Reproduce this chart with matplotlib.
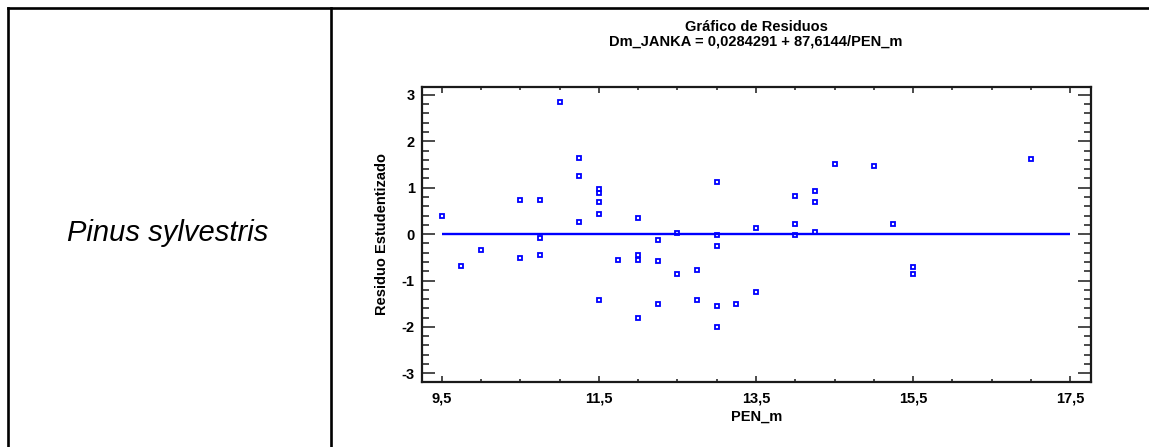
import matplotlib
matplotlib.use("Agg")
import matplotlib.pyplot as plt
from matplotlib.lines import Line2D
from matplotlib.ticker import FixedLocator, MultipleLocator, FixedFormatter

plt.rcParams["font.family"] = ["Liberation Sans", "DejaVu Sans"]
plt.rcParams["axes.unicode_minus"] = False

# Residual data: PEN_m vs studentized residual
pen_m = [9.5, 9.75, 10.0, 10.5, 10.5, 10.75, 10.75, 10.75, 11.0,
         11.25, 11.25, 11.25, 11.5, 11.5, 11.5, 11.5, 11.5, 11.75,
         12.0, 12.0, 12.0, 12.0, 12.25, 12.25, 12.25, 12.5, 12.5,
         12.75, 12.75, 13.0, 13.0, 13.0, 13.0, 13.0, 13.25, 13.5, 13.5,
         14.0, 14.0, 14.0, 14.25, 14.25, 14.25, 14.5, 15.0, 15.25,
         15.5, 15.5, 17.0]
residuo = [0.40, -0.68, -0.34, 0.74, -0.51, 0.74, -0.08, -0.46, 2.85,
           1.63, 1.26, 0.27, 0.97, 0.88, 0.70, 0.44, -1.41, -0.55,
           0.35, -0.44, -0.55, -1.80, -0.12, -0.59, -1.50, 0.02, -0.85,
           -0.77, -1.41, 1.13, -0.03, -0.25, -1.55, -2.01, -1.50, 0.14, -1.24,
           0.83, 0.22, -0.03, 0.92, 0.70, 0.04, 1.51, 1.47, 0.22,
           -0.71, -0.85, 1.61]

x_ticks = [9.5, 11.5, 13.5, 15.5, 17.5]
x_tick_labels = ["9,5", "11,5", "13,5", "15,5", "17,5"]
y_ticks = [-3, -2, -1, 0, 1, 2, 3]
y_tick_labels = ["-3", "-2", "-1", "0", "1", "2", "3"]

species = "Pinus sylvestris"
title_line1 = "Gráfico de Residuos"
title_line2 = "Dm_JANKA = 0,0284291 + 87,6144/PEN_m"
x_label = "PEN_m"
y_label = "Residuo Estudentizado"

W, H = 1149, 447
fig = plt.figure(figsize=(W / 100, H / 100), dpi=100)
fig.patch.set_facecolor("white")

def fx(px):
    return px / W

def fy(py):
    return 1 - py / H

# table frame
lw_frame = 1.9
fig.add_artist(Line2D([fx(8), 1.0], [fy(8), fy(8)], color="black", lw=lw_frame))
fig.add_artist(Line2D([fx(8), fx(8)], [fy(8), 0.0], color="black", lw=lw_frame))
fig.add_artist(Line2D([fx(331), fx(331)], [fy(8), 0.0], color="black", lw=lw_frame))

fig.text(fx(168), fy(233), species, ha="center", va="center",
         fontsize=21, style="italic")

ax = fig.add_axes([fx(421.7), fy(381.7), fx(1091) - fx(421.7), fy(86.5) - fy(381.7)])
ax.set_xlim(9.245, 17.765)
ax.set_ylim(-3.18, 3.18)

ax.hlines(0, x_ticks[0], x_ticks[-1], color="#0000ff", lw=1.7, zorder=2)
ax.plot(pen_m, residuo, linestyle="none", marker="s", markersize=3.4,
        markerfacecolor="none", markeredgecolor="#0000ff", markeredgewidth=1.3,
        zorder=3)

ax.xaxis.set_major_locator(FixedLocator(x_ticks))
ax.xaxis.set_major_formatter(FixedFormatter(x_tick_labels))
ax.xaxis.set_minor_locator(MultipleLocator(0.5))
ax.yaxis.set_major_locator(FixedLocator(y_ticks))
ax.yaxis.set_major_formatter(FixedFormatter(y_tick_labels))
ax.yaxis.set_minor_locator(MultipleLocator(0.2))

ax.tick_params(axis="both", which="both", direction="in", top=True, right=True,
               color="#1a1a1a", width=1.1)
ax.tick_params(axis="x", which="major", length=4.5, pad=7)
ax.tick_params(axis="x", which="minor", length=2.5)
ax.tick_params(axis="y", which="major", length=9.5, pad=5)
ax.tick_params(axis="y", which="minor", length=5)
for lab in ax.get_xticklabels() + ax.get_yticklabels():
    lab.set_fontweight("bold")
    lab.set_fontsize(10.5)

for sp in ax.spines.values():
    sp.set_linewidth(1.6)
    sp.set_color("#1a1a1a")

ax.set_xlabel(x_label, fontsize=10.5, fontweight="bold", labelpad=3)
ax.set_ylabel(y_label, fontsize=10.5, fontweight="bold", labelpad=9)

fig.text(fx(756), fy(27), title_line1, ha="center", va="center",
         fontsize=10.5, fontweight="bold")
fig.text(fx(756), fy(42), title_line2, ha="center", va="center",
         fontsize=10.5, fontweight="bold")

fig.savefig("out.png", dpi=100, facecolor="white")
